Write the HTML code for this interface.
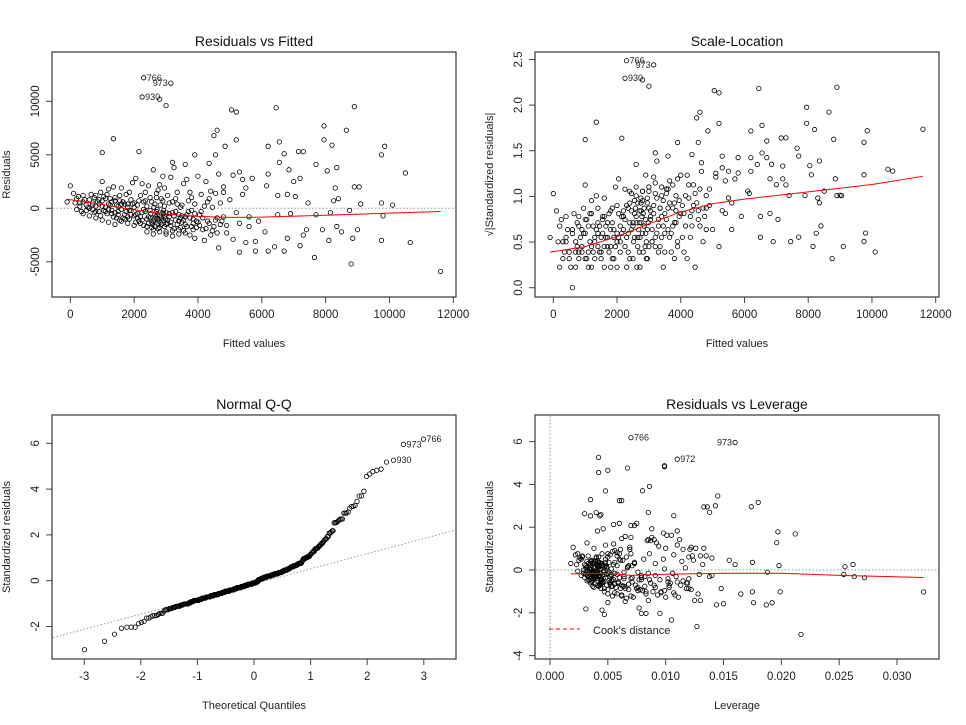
<!DOCTYPE html>
<html><head><meta charset="utf-8"><style>
html,body{margin:0;padding:0;background:#fff;}
svg{display:block;font-family:"Liberation Sans",Arial,sans-serif;}
</style></head><body>
<svg id="chart" width="966" height="725" viewBox="0 0 966 725" xmlns="http://www.w3.org/2000/svg"></svg>
<script>
// observations: [fitted, residual, leverage*1000]
const observationsSparse = [
[2300,12200,7],[3150,11700,16],[2250,10400,4.2],[2800,10200,11],[3000,9600,9.9],
[1350,6500,3.5],[1000,5200,3],[2150,5300,4],[5050,9200,5],[5200,9000,4.2],[6450,9400,6.7],[8900,9500,9.9],
[7950,7700,8.6],[8650,7300,8],[4600,7300,4.8],[4500,6800,14.5],[5200,6400,6.2],[7950,6400,6],[8200,5900,14.3],
[6200,5800,13.3],[9850,5800,17.4],[4850,5800,13.6],[6550,6200,18],[9750,5000,10.7],[3900,5000,3.5],[7150,5300,8.5],
[7300,5300,13.8],[4550,5000,4.3],[6700,5100,4.4],[10500,3300,21.2],[7700,4100,7],[8350,3800,8.8],[8050,3500,19.7],
[6850,3600,11],[6550,4300,6],[4350,4200,5.5],[3600,4100,7.3],[3200,4300,7.5],[5300,3400,9.8],[7200,2800,11.2],
[7000,2500,19.6],[6200,3200,10.5],[8300,1900,12.1],[8900,2000,13.3],[9050,2000,10],[9100,400,19.8],[10100,300,25.5],
[9750,500,26.2],[8400,900,15.5],[8250,700,17.5],[7450,500,16],[7050,1100,14],[6800,1300,13],[6500,1200,12],
[5400,2700,8.7],[5700,2800,9],[5100,3100,6.5],[4800,1500,7],[4400,1600,5.8],[5500,1900,11.5],[6150,2100,12.2],
[9800,-700,27.2],[10650,-3200,18.7],[11600,-5900,21.7],[8800,-5200,12.7],[7650,-4600,10.5],[9000,-2000,32.3],
[8850,-2800,13],[9750,-3000,19.2],[8100,-3000,17.6],[7900,-2000,19.9],[8350,-1700,14.8],[8500,-2200,12.8],
[7300,-2500,10],[7200,-3500,7.7],[6700,-4000,8.3],[6200,-4000,7.9],[5300,-4100,4.7],[5800,-4000,9.5],
[4650,-3700,4.5],[6400,-3600,3.1],[6100,-2200,16.5],[5800,-3100,15],[5500,-3200,14.4],[6800,-2800,12.5],
[4200,-3000,5],[5100,-2900,6.5],[4900,-2300,9.3],[7400,-2000,17.5],[8750,-200,18.8],[7700,-600,26.3],
[8150,-400,25.4],[6900,-500,14],[6500,-600,13.8],[5900,-1200,11.8],[5600,-800,10.2],[4700,-1500,8.2],
[4600,-2300,10.8],[3900,-2800,8.5],[4800,-800,12],[5300,-1400,11.3]
];
const observationsCore = [
[-100,600,1.8],[0,2100,2],[100,1400,2.2],[200,900,2.5],[300,500,3],[400,1200,2.8],[500,300,3.3],[600,800,3.6],
[700,-100,3.9],[800,1200,4.2],[900,400,4.5],[950,1500,2.4],[1000,2500,3.2],[1050,-200,3.7],[1100,900,4.1],
[1200,1800,5.6],[1250,300,4.9],[1300,-500,5.3],[1350,2000,3.8],[1400,1000,6],[1500,-300,4.4],[1550,700,5.1],
[1600,1900,6.1],[1650,-900,3.4],[1700,400,4.6],[1750,1300,5.8],[1800,-1400,4.3],[1850,-200,6.4],[1900,800,3.9],
[1950,2400,5.5],[2000,-700,7.1],[2050,2800,8.5],[2100,300,4.7],[2150,-1200,5.9],[2200,1200,6.6],[2250,-400,3.5],
[2300,-1600,7.6],[2350,700,4.8],[2400,-1000,5.4],[2450,2100,6.9],[2500,-200,4.1],[2550,-1800,7.8],[2600,3600,4.1],
[2650,-600,5.2],[2700,1000,8.1],[2750,-1400,6.2],[2800,2200,9.4],[2850,-900,4.5],[2900,3000,8.8],[2950,200,6.7],
[3000,-2200,8.3],[3050,1200,5],[3100,-500,9.1],[3150,-1600,5.7],[3200,600,7.3],[3250,3800,4.6],[3300,-1100,10.2],
[3350,1500,6],[3400,-2000,9.6],[3450,100,5.3],[3500,-700,7.9],[3550,2300,11],[3600,-1500,6.3],[3650,2700,8.4],
[3700,-300,10.6],[3750,-2500,7.2],[3800,1000,9.8],[3850,-1000,11.5],[3900,400,6.8],[3950,-1800,12.2],[4000,3000,7],
[4050,-600,10.9],[4100,1300,12.3],[4150,-2000,8.9],[4200,200,11.7],[4250,2500,9.2],[4300,-1200,10.4],[4350,900,12.4],
[4400,-2500,11.1],[4450,100,9.9],[4500,-1700,12],[4550,1400,10.7],[4600,-900,8.6],[4650,3200,10.1],[4700,500,13.2],
[4750,-1200,11.9],[4800,2000,12.6],[4900,-1600,10.3],[5000,800,11.4],[5200,-400,12.9],[5400,1300,13.5],[5600,-1700,11.8],
[300,200,3.1],[500,-200,3.6],[700,500,4],[900,-300,3.3],[1100,100,4.4],[1300,600,3.7],[1500,200,4.9],[1700,-600,4.2],
[1900,-200,5.1],[2100,-500,3.8],[2300,-100,4.6],[2500,-900,5.5],[2700,-300,4.3],[2900,-1100,5.9],[3100,-800,6.4],
[3300,-300,5.6],[3500,-1300,6.8],[2600,-1200,3.5],[2800,-700,4.8],[3000,-400,5.3],[2400,200,3.9],[2200,-800,4.4],
[2000,100,3.6],[1800,400,4.1],[1600,-100,3.2],[1400,-400,4.7],[1200,-100,3.4],[1000,700,4.3],[800,200,3.8],
[600,0,2.9],[400,600,3.3],[2650,400,5.8],[2850,900,6.3],[3050,-1400,7.4],[3250,-1900,8],[3450,-900,7.7],[3650,-600,8.2],
[3850,-1400,9],[2450,-1400,4.9],[2750,1700,5.4],[1850,1500,4.5],[1550,1200,4],[1150,1300,3.3],[750,1000,2.7],
[2350,1500,5],[2950,1900,6.9],[3350,400,7.1],[3150,2900,6.2],[2250,2300,4.8],[2050,-1300,5.2],[1450,-900,3.7],
[2550,600,4.5],[2750,-1900,7.6],[3550,-2100,9.6],[3750,1500,8.6],[2950,-1700,6.1]
];
const observationsDense = [
[150,500,2.3],[250,1100,2.6],[350,-300,2.9],[450,800,3.2],[550,100,3.4],[650,1300,2.8],[750,-400,3.1],[850,600,3.5],
[950,-700,3.8],[1050,1100,4],[1150,-500,4.2],[1250,900,3.6],[1350,-800,3.9],[1450,300,4.3],[1550,-1100,4.6],[1650,600,3.7],
[1750,-300,4.1],[1850,-1000,4.4],[1950,400,4.8],[2050,-600,3.9],[2150,700,4.2],[2250,-1100,4.5],[2350,-300,5],[2450,-800,3.8],
[2550,-1300,4.3],[2650,-1700,4.7],[2750,-1000,5.1],[2850,-1500,5.4],[2950,-800,4.6],[3050,-1100,5.2],[3150,-1300,5.6],
[3250,-700,6],[3350,-1500,6.4],[3450,-1800,6.8],[3550,-1100,7.1],[3650,-1700,7.5],[3750,-900,7.9],[3850,-2000,8.3],
[3950,-1200,8.7],[4050,-1600,9.1],[4150,-900,9.5],[4250,-1900,9.9],[4350,-1400,10.3],[4450,-2100,10.7],[4550,-1100,11],
[200,-100,2.4],[400,-500,2.7],[600,-700,3],[800,-900,3.3],[1000,-1100,3.6],[1200,-1300,3.9],[1400,-1500,4.2],
[1600,-1200,4.5],[1800,-800,3.5],[2000,-1600,3.8],[2200,-1400,4.1],[2400,-1700,4.4],[2600,-2000,4.7],[2800,-1800,5],
[3000,-1500,5.3],[3200,-2100,5.6],[3400,-1200,5.9],[3600,-2300,6.2],[3800,-1700,6.5],[4000,-1300,6.8],
[2520,-500,3.2],[2620,-1000,3.6],[2720,-600,4],[2820,-1300,4.4],[2920,-500,3.3],[2580,-1500,3.7],[2680,-800,4.1],
[2780,-1200,4.5],[2880,-400,4.9],[2980,-1000,5.3],[2620,100,3.4],[2720,-100,3.8],[2820,300,4.2],[2920,-200,4.6],
[1700,-1000,3.2],[1800,100,3.5],[1900,-600,3.8],[2000,500,4.1],[2100,-900,4.4],[1600,400,3.1],[1500,-600,3.4],
[1400,700,3.7],[1300,-200,4],[1200,400,4.3],[1100,-300,2.9],[1000,200,3.2],[900,800,3.5],[800,-300,3.8],[700,300,4.1],
[3100,500,5.5],[3300,900,6.1],[3500,300,6.7],[3700,700,7.3],[3900,-500,7.9],[4100,-300,8.5],[4300,600,9.1],
[3200,-400,5.8],[3400,-600,6.4],[3600,-800,7],[3800,-200,7.6],[2300,600,4.4],[2500,1000,4.8],[2700,1400,5.2],
[2900,700,5.6],[2400,-2200,5],[2600,-2400,5.4],[2800,-2200,5.8],[3000,-2400,6.2],[3200,-2600,6.6],[3400,-2400,7]
];
const observations = observationsSparse.concat(observationsCore, observationsDense);
const sigma = 1980;
const labelsFit = {0:'766',1:'973',2:'930'};
const labelsLev = {0:'766',1:'973',3:'972'};
const fitTicks = [0,2000,4000,6000,8000,10000,12000];
const residTicks = [-5000,0,5000,10000];
const sqrtTicks = [0,0.5,1,1.5,2,2.5];
const qTicks = [-3,-2,-1,0,1,2,3];
const qqYTicks = [-2,0,2,4,6];
const levTicks = [0,0.005,0.01,0.015,0.02,0.025,0.03];
const levYTicks = [-4,-2,0,2,4,6];
const smoothFitX = [-100,1000,2000,3000,4000,5000,6000,8000,10000,11600];
const smoothFitY = [850,350,-150,-550,-750,-850,-830,-650,-450,-300];
const smoothSlX = [-100,1000,2000,3000,4000,5000,6000,8000,10000,11600];
const smoothSlY = [0.39,0.45,0.56,0.70,0.83,0.92,0.97,1.05,1.13,1.22];
const smoothLevX = [0.0018,0.005,0.007,0.01,0.015,0.02,0.025,0.0323];
const smoothLevY = [-0.18,-0.15,-0.25,-0.2,-0.15,-0.15,-0.25,-0.35];
const qqLine = {intercept:-0.12, slope:0.66};

const NS='http://www.w3.org/2000/svg';
const svg=document.getElementById('chart');
function el(tag,attrs,parent){const e=document.createElementNS(NS,tag);for(const k in attrs)e.setAttribute(k,attrs[k]);(parent||svg).appendChild(e);return e;}
function txt(s,attrs,parent){const t=el('text',attrs,parent);t.textContent=s;return t;}

const rs = observations.map(o=>o[1]/(sigma*Math.sqrt(1-o[2]/1000)));

function qnorm(p){const a=[-39.6968302866538,220.946098424521,-275.928510446969,138.357751867269,-30.6647980661472,2.50662827745924],b=[-54.4760987982241,161.585836858041,-155.698979859887,66.8013118877197,-13.2806815528857],c=[-0.00778489400243029,-0.322396458041136,-2.40075827716184,-2.54973253934373,4.37466414146497,2.93816398269878],d=[0.00778469570904146,0.32246712907004,2.445134137143,3.75440866190742];let q,r;if(p<0.02425){q=Math.sqrt(-2*Math.log(p));return(((((c[0]*q+c[1])*q+c[2])*q+c[3])*q+c[4])*q+c[5])/((((d[0]*q+d[1])*q+d[2])*q+d[3])*q+1);}if(p>1-0.02425){q=Math.sqrt(-2*Math.log(1-p));return-(((((c[0]*q+c[1])*q+c[2])*q+c[3])*q+c[4])*q+c[5])/((((d[0]*q+d[1])*q+d[2])*q+d[3])*q+1);}q=p-0.5;r=q*q;return(((((a[0]*r+a[1])*r+a[2])*r+a[3])*r+a[4])*r+a[5])*q/(((((b[0]*r+b[1])*r+b[2])*r+b[3])*r+b[4])*r+1);}

function panel(cfg){
  const g=el('g',{});
  
  
  const t=txt(cfg.title,{x:(cfg.x0+cfg.x1)/2,y:cfg.y0-6,'text-anchor':'middle','font-size':14,fill:'#111'},g);
  
  
  const box=el('rect',{x:cfg.x0,y:cfg.y0,width:cfg.x1-cfg.x0,height:cfg.y1-cfg.y0,fill:'none',stroke:'#444','stroke-width':1.3},g);
  
  
  const xa=el('g',{},g);
  
  
  const xs=cfg.xt.map(cfg.sx);
  el('line',{x1:xs[0],x2:xs[xs.length-1],y1:cfg.y1,y2:cfg.y1,stroke:'#444'},xa);
  cfg.xt.forEach((v,i)=>{el('line',{x1:xs[i],x2:xs[i],y1:cfg.y1,y2:cfg.y1+6,stroke:'#444'},xa);
    const l=txt(cfg.xf(v),{x:xs[i],y:cfg.y1+21,'text-anchor':'middle','font-size':11.5,fill:'#222'},xa);
    
    });
  const ya=el('g',{},g);
  
  
  const ys=cfg.yt.map(cfg.sy);
  el('line',{x1:cfg.x0,x2:cfg.x0,y1:ys[0],y2:ys[ys.length-1],stroke:'#444'},ya);
  cfg.yt.forEach((v,i)=>{el('line',{x1:cfg.x0-6,x2:cfg.x0,y1:ys[i],y2:ys[i],stroke:'#444'},ya);
    const l=txt(cfg.yf(v),{x:cfg.x0-13,y:ys[i],'text-anchor':'middle','font-size':11.5,fill:'#222',transform:`rotate(-90 ${cfg.x0-13} ${ys[i]})`},ya);
    
    });
  const xl=txt(cfg.xlab,{x:(cfg.x0+cfg.x1)/2,y:cfg.y1+50,'text-anchor':'middle','font-size':11,fill:'#222'},g);
  
  
  const yx=cfg.x0-42, yy=(cfg.y0+cfg.y1)/2;
  const yl=txt(cfg.ylab,{x:yx,y:yy,'text-anchor':'middle','font-size':11,fill:'#222',transform:`rotate(-90 ${yx} ${yy})`},g);
  
  
  return g;
}
function pts(g,xv,yv,sx,sy,labels,labelLeft){
  const pg=el('g',{},g);
  
  
  xv.forEach((x,i)=>{const c=el('circle',{cx:sx(x),cy:sy(yv[i]),r:2.2,fill:'none',stroke:'#000','stroke-width':0.8},pg);
    
    
    if(labels&&labels[i]!==undefined){const left=labelLeft&&labelLeft[i];
      const l=txt(labels[i],{x:sx(x)+(left?-3:3),y:sy(yv[i])+3,'text-anchor':left?'end':'start','font-size':9,fill:'#222'},pg);
      
      }});
}
function smooth(g,xv,yv,sx,sy){
  const p=el('polyline',{points:xv.map((x,i)=>sx(x)+','+sy(yv[i])).join(' '),fill:'none',stroke:'#f00','stroke-width':1},g);
  
  
}
function dotted(g,x1,y1,x2,y2,name){
  const l=el('line',{x1,y1,x2,y2,stroke:'#999','stroke-dasharray':'1.5,2','stroke-width':1},g);
  
  
}

// Panel 1
{const sx=v=>70.3+v*383/12000, sy=v=>208.3-v*53.5/5000;
 const g=panel({name:'residuals-vs-fitted-panel',title:'Residuals vs Fitted',x0:52,x1:456,y0:52,y1:297,sx,sy,xt:fitTicks,yt:residTicks,xf:v=>String(v),yf:v=>String(v),xlab:'Fitted values',ylab:'Residuals'});
 dotted(g,53,sy(0),455,sy(0),'zero-reference-line');
 pts(g,observations.map(o=>o[0]),observations.map(o=>o[1]),sx,sy,labelsFit,{1:true});
 smooth(g,smoothFitX,smoothFitY,sx,sy);}
// Panel 2
{const sx=v=>553.3+v*382.4/12000, sy=v=>287.7-v*91.3;
 const g=panel({name:'scale-location-panel',title:'Scale-Location',x0:535,x1:939,y0:52,y1:297,sx,sy,xt:fitTicks,yt:sqrtTicks,xf:v=>String(v),yf:v=>v.toFixed(1),xlab:'Fitted values',ylab:'√|Standardized residuals|'});
 pts(g,observations.map(o=>o[0]),rs.map(v=>Math.sqrt(Math.abs(v))),sx,sy,labelsFit,{1:true});
 smooth(g,smoothSlX,smoothSlY,sx,sy);}
// Panel 3
{const sx=v=>254+v*56.6, sy=v=>580.7-v*22.9;
 const g=panel({name:'normal-qq-panel',title:'Normal Q-Q',x0:52,x1:456,y0:415,y1:659,sx,sy,xt:qTicks,yt:qqYTicks,xf:v=>String(v),yf:v=>String(v),xlab:'Theoretical Quantiles',ylab:'Standardized residuals'});
 const n=rs.length, order=rs.map((v,i)=>i).sort((a,b)=>rs[a]-rs[b]);
 const qx=[],qy=[],ql={};
 order.forEach((idx,k)=>{qx.push(qnorm((k+0.5)/n));qy.push(rs[idx]);if(labelsFit[idx])ql[k]=labelsFit[idx];});
 dotted(g,53,sy(qqLine.intercept+qqLine.slope*(-3.58)),455,sy(qqLine.intercept+qqLine.slope*3.52),'qq-reference-line');
 pts(g,qx,qy,sx,sy,ql);}
// Panel 4
{const sx=v=>550+v*11567, sy=v=>570-v*21.4;
 const g=panel({name:'residuals-vs-leverage-panel',title:'Residuals vs Leverage',x0:535,x1:939,y0:415,y1:659,sx,sy,xt:levTicks,yt:levYTicks,xf:v=>v.toFixed(3),yf:v=>String(v),xlab:'Leverage',ylab:'Standardized residuals'});
 dotted(g,sx(0),416,sx(0),658,'zero-leverage-line');
 dotted(g,536,sy(0),938,sy(0),'zero-residual-line');
 pts(g,observations.map(o=>o[2]/1000),rs,sx,sy,labelsLev,{1:true});
 smooth(g,smoothLevX,smoothLevY,sx,sy);
 const lg=el('g',{},g);
 
 
 el('line',{x1:549,x2:580,y1:629,y2:629,stroke:'#f00','stroke-dasharray':'4,3'},lg);
 txt("Cook's distance",{x:593,y:634,'font-size':11,fill:'#222'},lg);}
</script>
</body></html>
